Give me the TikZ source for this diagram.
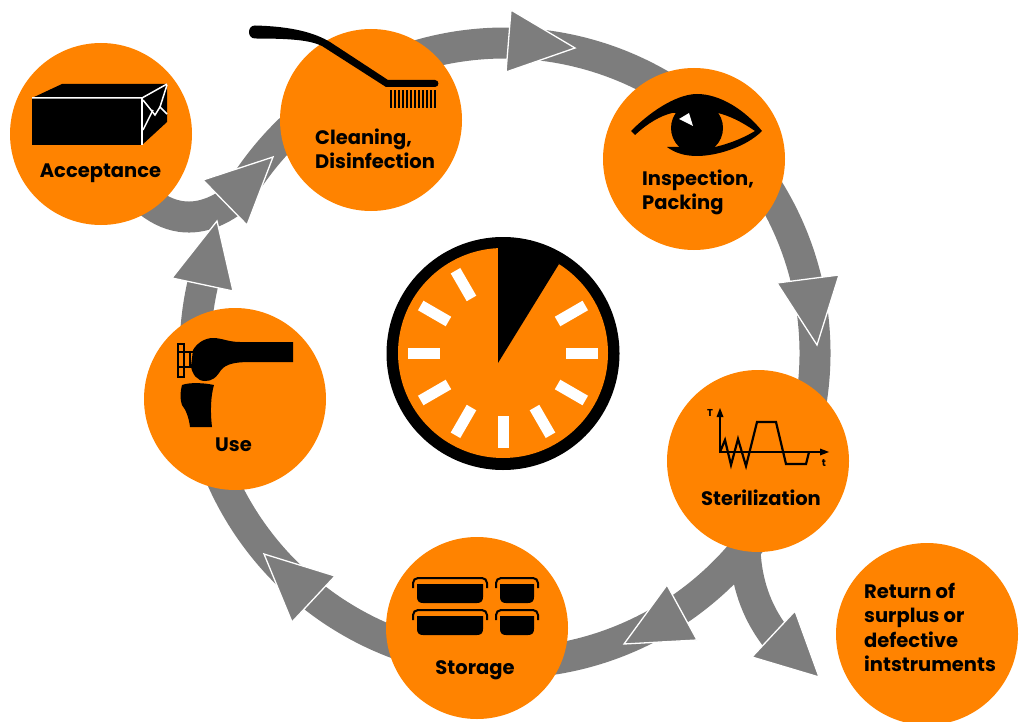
\documentclass[tikz,border=0pt]{standalone}
\usepackage{fontspec}
\usetikzlibrary{calc}
\setmainfont{Poppins}
\definecolor{oran}{HTML}{FF8300}
\definecolor{flowgray}{HTML}{7D7D7D}
\tikzset{
  stage/.style={circle,fill=oran,minimum size=182pt,inner sep=0pt},
  lab/.style={font=\bfseries\fontsize{19.5}{24.5}\selectfont,align=left,inner sep=0pt,text=black},
  flow/.style={draw=flowgray,line width=31pt,line cap=butt},
  head/.style={fill=flowgray,draw=white,line width=1.3pt,line join=miter},
  tick/.style={fill=white,draw=none},
  ic/.style={fill=black,draw=none},
  icw/.style={draw=white,line width=1.5pt,fill=none},
}
\begin{document}
\begin{tikzpicture}[x=1pt,y=1pt,yscale=-1]
\useasboundingbox (0,0) rectangle (1027,722);
% ring reference points
\coordinate (rc) at (505,353);
\foreach \n/\a in {a/250,c/305,e/30,g/100,i/160,k/212}{
  \coordinate (p\n) at ($(rc)+(\a:310)$);
}
\coordinate (accEnd) at (240,195);
\coordinate (retEnd) at (778,640);
% stage positions
\coordinate (cAcc) at (101,134);
\coordinate (cSte) at (758,461);
% connectors
\draw[flow] (pa) arc[start angle=250,end angle=305,radius=310];
\draw[flow] (pc) arc[start angle=-55,end angle=15,radius=310];
\draw[flow] (pe) arc[start angle=30,end angle=85,radius=310];
\draw[flow] (pg) arc[start angle=100,end angle=162,radius=310];
\draw[flow] (pi) arc[start angle=160,end angle=194,radius=310];
\draw[flow] (pk) arc[start angle=212,end angle=235,radius=310];
\draw[flow] (cAcc) .. controls (150,240) and (205,225) .. (accEnd);
\draw[flow] (cSte) .. controls (738,530) and (738,590) .. (retEnd);
% arrowheads
\path[head] (511,10) -- (575,48) -- (506,72) -- cycle;
\path[head] (777,283) -- (839,275) -- (817,345) -- cycle;
\path[head] (667,585) -- (697,640) -- (624,644) -- cycle;
\path[head] (795,611) -- (819,677) -- (752,657) -- cycle;
\path[head] (264,554) -- (335,576) -- (292,622) -- cycle;
\path[head] (217,221) -- (233,291) -- (172,278) -- cycle;
\path[head] (203,180) -- (273,157) -- (247,225) -- cycle;
% stages
\node[stage] (acceptance) at (101,134) {};
\node[stage] (cleaning) at (371,120) {};
\node[stage] (inspection) at (694,159) {};
\node[stage] (sterilization) at (758,461) {};
\node[stage] (storage) at (477,628) {};
\node[stage] (use) at (235,399) {};
\node[stage] (return) at (927,634) {};
% labels
\node[lab] (lAcc) at (100.5,173) {Acceptance};
\node[lab,anchor=west] (lCle) at (315,149) {Cleaning,\\Disinfection};
\node[lab,anchor=west] (lIns) at (642,192.5) {Inspection,\\Packing};
\node[lab] (lSte) at (761,497.5) {Sterilization};
\node[lab] (lSto) at (475,670) {Storage};
\node[lab] (lUse) at (233.5,445) {Use};
\node[lab,anchor=west] (lRet) at (864,627.5) {Return of\\surplus or\\defective\\intstruments};
% clock
\node[circle,fill=black,minimum size=233pt,inner sep=0pt] (clockouter) at (503,353.5) {};
\node[circle,fill=oran,minimum size=210pt,inner sep=0pt] (clockface) at (503,353) {};
\fill[ic] (498,363) -- (498,245) -- (530,240) -- (559,264) -- cycle;
\foreach \a in {-30,0,30,60,90,120,150,180,210,240}{
  \fill[tick,rotate around={\a:(503,353)}] (566,347.5) rectangle (598,358.5);
}
% box icon
\fill[ic] (32,98) -- (62,84) -- (167,84) -- (167,122) -- (142,145) -- (32,145) -- cycle;
\draw[icw] (32,98) -- (142,98) -- (167,84);
\draw[icw] (142,98) -- (142,145);
\draw[icw] (143,100) -- (155,115) -- (160,107) -- (167,114);
\draw[icw] (167,85) -- (160,107);
\draw[icw] (143,130) -- (153,110);
% brush icon
\fill[ic] (255,25.5) .. controls (293,26.5) and (315,33) .. (330,42) -- (388,80) -- (435,80)
  .. controls (439.5,80) and (439.5,87) .. (435,87) -- (386,87) -- (322,46)
  .. controls (310,40) and (290,38.5) .. (255,38.5) .. controls (247,38.5) and (247,25.5) .. (255,25.5) -- cycle;
\foreach \i in {0,...,11}{
  \fill[ic] ({390.3+\i*4},90) rectangle ({392.3+\i*4},108);
}
% eye icon
\fill[ic] (631,131) .. controls (655,107) and (680,94) .. (697,94)
  .. controls (720,94) and (745,110) .. (762,131)
  .. controls (745,148) and (715,156) .. (697,156)
  .. controls (685,156) and (675,153) .. (667,147) -- (715,147)
  .. controls (732,143) and (745,137) .. (755,131)
  .. controls (742,122) and (730,116) .. (718,113) -- (672,113)
  .. controls (660,116) and (648,123) .. (635,135) -- cycle;
\fill[ic] (697,128) circle[radius=26];
\fill[white] (679,119) -- (689,113) -- (693,126) -- cycle;
% chart icon
\draw[black,line width=2.2pt] (720,453) -- (720,415);
\fill[ic] (720,408) -- (723.5,417) -- (716.5,417) -- cycle;
\draw[black,line width=2.2pt] (719,452) -- (822,452);
\fill[ic] (829,452) -- (820,448.5) -- (820,455.5) -- cycle;
\draw[black,line width=2.2pt,line join=miter] (720,452) -- (725,440) -- (731,465) -- (738,439) -- (746,466) -- (757,422) -- (776,422) -- (786,464) -- (806,464) -- (809,452);
\node[font=\bfseries\fontsize{10}{11}\selectfont,inner sep=0pt] (axisT) at (710,413) {T};
\node[font=\bfseries\fontsize{10}{11}\selectfont,inner sep=0pt] (axist) at (824,463) {t};
% knee icon
\fill[ic] (193,350) .. controls (197,343) and (205,338) .. (213,338)
  .. controls (222,338) and (228,342) .. (240,342) -- (293,342) -- (293,362) -- (250,362)
  .. controls (235,362) and (226,364) .. (221,370) .. controls (216,378) and (212,381) .. (205,381)
  .. controls (197,381) and (192,374) .. (191,366) -- cycle;
\draw[black,line width=2pt] (177.5,344) rectangle (184,377);
\draw[black,line width=2pt] (177.5,352) -- (195,352) (177.5,367) -- (195,367) (190,352) -- (190,367);
\fill[ic] (182,385) .. controls (190,382) and (205,383) .. (214,385) .. controls (211,395) and (210,410) .. (212,427)
  -- (190,427) .. controls (189,418) and (186,410) .. (182,405) .. controls (180,400) and (180,392) .. (182,385) -- cycle;
% storage icon
\foreach \x/\y/\w in {413/578/74, 496/578/42, 413/610/74, 496/610/42}{
  \draw[black,line width=2pt,rounded corners=5pt] (\x,\y+10) -- (\x,\y) -- (\x+\w,\y) -- (\x+\w,\y+10);
  \fill[ic] (\x+4,\y+6) -- (\x+4,\y+19) .. controls (\x+4,\y+23) and (\x+6,\y+25) .. (\x+10,\y+25)
    -- (\x+\w-10,\y+25) .. controls (\x+\w-6,\y+25) and (\x+\w-4,\y+23) .. (\x+\w-4,\y+19) -- (\x+\w-4,\y+6) -- cycle;
}
\end{tikzpicture}
\end{document}
